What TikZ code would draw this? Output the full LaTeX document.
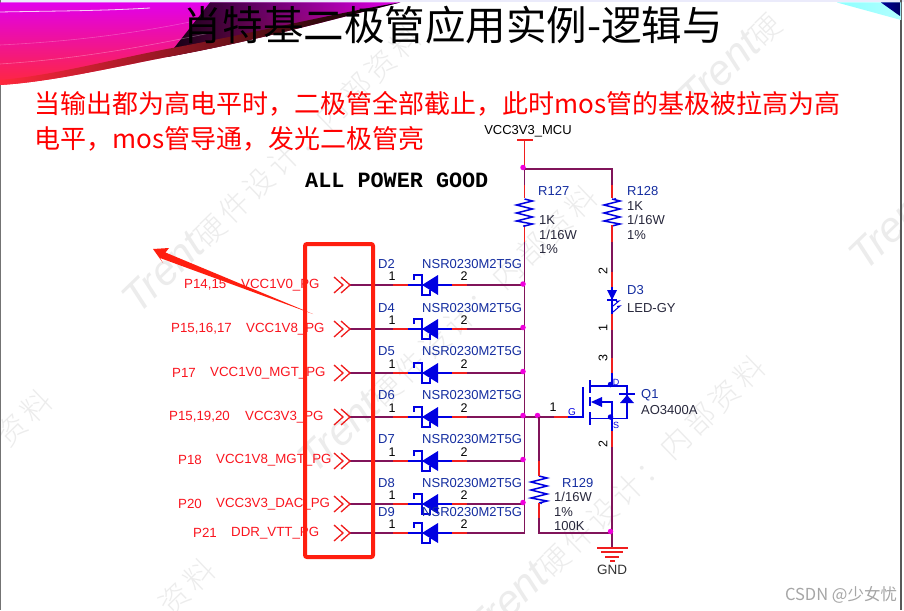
\documentclass[tikz,border=0pt]{standalone}
\usepackage{fontspec}
\usetikzlibrary{fadings}
\setmainfont{Liberation Sans}
\setmonofont{Liberation Mono}
\newfontfamily\cjkfont{Noto Sans CJK SC}
\newfontfamily\markfont[LetterSpace=13]{Noto Sans CJK SC Light}
\definecolor{wirecol}{RGB}{128,20,90}
\definecolor{pincol}{RGB}{240,30,30}
\definecolor{symcol}{RGB}{0,0,225}
\definecolor{dotcol}{RGB}{240,0,220}
\definecolor{refcol}{RGB}{20,45,160}
\definecolor{valcol}{RGB}{40,40,60}
\definecolor{sigcol}{RGB}{250,20,30}
\definecolor{boxcol}{RGB}{255,30,15}
\definecolor{markcol}{RGB}{236,236,236}
\newcommand{\trentmark}{{\rmfamily\itshape\fontsize{42}{42}\selectfont Trent}}
\tikzset{
  wire/.style={draw=wirecol, line width=1.3pt},
  pinwire/.style={draw=pincol, line width=1.3pt},
  symline/.style={draw=symcol, line width=1.3pt},
  dot/.style={circle, fill=dotcol, inner sep=0pt, minimum size=5.5pt},
  bluedot/.style={circle, fill=symcol, inner sep=0pt, minimum size=5.5pt},
  tinydot/.style={circle, fill=symcol, inner sep=0pt, minimum size=2.5pt},
  partref/.style={right, inner sep=0pt, text=refcol, font=\fontsize{13}{13}\selectfont},
  partval/.style={right, inner sep=0pt, text=valcol, font=\fontsize{13}{13}\selectfont},
  pinno/.style={inner sep=0pt, text=black, font=\fontsize{12.5}{12.5}\selectfont},
  mospin/.style={inner sep=0pt, text=symcol, font=\fontsize{9}{9}\selectfont},
  siglabel/.style={right, inner sep=0pt, yshift=-1pt, text=sigcol, font=\fontsize{13.3}{13.3}\selectfont},
  wmark/.style={rotate=44, inner sep=0pt, text=markcol, font=\markfont\fontsize{30}{30}\selectfont},
  redtext/.style={right, inner sep=0pt, text=red, font=\cjkfont\fontsize{26}{26}\selectfont},
  schottky/.pic={
    \draw[pinwire] (-37,0) -- (-22,0);
    \draw[pinwire] (22,0) -- (37,0);
    \draw[symline] (-22,0) -- (22,0);
    \fill[symcol] (-8,0) -- (8,-10) -- (8,10) -- cycle;
    \draw[symline] (-16,-5) -- (-16,-10) -- (-8,-10) -- (-8,10) -- (0,10) -- (0,5);
  },
  chevrons/.pic={
    \draw[pinwire] (-16,-8) -- (-7,0) -- (-16,8);
    \draw[pinwire] (-9,-8) -- (0,0) -- (-9,8);
  },
  zigzag/.pic={
    \draw[symline, line width=1.5pt] (0,0) -- (8,2) -- (-8,6) -- (8,10) -- (-8,14) -- (8,18) -- (-8,22) -- (8,25) -- (0,27);
  },
  groundsym/.pic={
    \draw[pinwire] (-15,0) -- (16,0);
    \draw[pinwire] (-11,4) -- (11,4);
    \draw[pinwire] (-7,9) -- (7,9);
    \draw[pinwire] (-2,13) -- (3,13);
  }
}
\begin{document}
\begin{tikzpicture}[x=1pt,y=-1pt]
\useasboundingbox (0,0) rectangle (904,610);
\fill[white] (0,0) rectangle (904,610);
% watermark
\node[wmark] (markA) at (272,168) {\trentmark 硬件设计：内部资料};
\node[wmark] (markB) at (448,328) {\trentmark 硬件设计：内部资料};
\node[wmark] (markC) at (616,498) {\trentmark 硬件设计：内部资料};
\node[wmark, anchor=west] (markD) at (685,105) {\trentmark 硬};
\node[wmark, anchor=west] (markE) at (855,262) {\trentmark};
\node[wmark] (markF) at (24,418) {资料};
\node[wmark] (markG) at (187,587) {资料};
% slide frame and swoosh
\fill[black!18!blue!8!white] (0,0) rectangle (904,2.5);
\fill[black!55] (0,0) rectangle (1.2,610);
\fill[black!65] (900,0) rectangle (902,610);
\shade[top color={rgb,255:red,225;green,0;blue,235}, middle color={rgb,255:red,255;green,0;blue,140}, bottom color={rgb,255:red,255;green,40;blue,60}] (0,2.5) -- (400,2.5) .. controls (330,20) and (260,40) .. (167,57) .. controls (110,68) and (50,82) .. (0,85) -- cycle;
\fill[black!85!violet, path fading=east] (210,2.5) -- (400,2.5) .. controls (330,20) and (260,40) .. (167,57) -- cycle;
\shade[left color={rgb,255:red,255;green,40;blue,60}, middle color=red!60!black, right color=black] (0,85) .. controls (50,82) and (110,68) .. (167,57) .. controls (260,40) and (330,20) .. (400,2.5) .. controls (330,14) and (260,32) .. (167,49) .. controls (110,60) and (50,76) .. (0,80) -- cycle;
\draw[white, opacity=.8, line width=.8pt] (0,12) .. controls (50,11) and (100,11) .. (150,8);
\draw[white, opacity=.25, line width=.6pt] (0,45) .. controls (60,42) and (120,36) .. (190,22);
\draw[white, opacity=.3, line width=.6pt] (0,64) .. controls (60,60) and (120,52) .. (210,33);
\shade[left color=cyan!45!white, right color=cyan!30!white] (837,2.5) -- (901,2.5) -- (901,20) -- cycle;
\shade[left color=blue!60!black, right color=black!60!blue] (881,2.5) -- (900,2.5) -- (900,16) -- cycle;
% title and text
\node[inner sep=0pt, font=\cjkfont\fontsize{40.5}{40.5}\selectfont] (titleT) at (452.5,25) {肖特基二极管应用实例-逻辑与};
\node[redtext] (noteA) at (34.5,104) {当输出都为高电平时，二极管全部截止，此时mos管的基极被拉高为高};
\node[redtext] (noteB) at (34.5,139) {电平，mos管导通，发光二极管亮};
\node[right, inner sep=0pt, font=\bfseries\ttfamily\fontsize{21.8}{21.8}\selectfont] (allgood) at (305,180) {ALL POWER GOOD};
\node[inner sep=0pt, text=black!35, font=\cjkfont\fontsize{16.5}{16.5}\selectfont] (csdn) at (841,595) {CSDN @少女忧};
% rail and bus
\node[inner sep=0pt, font=\fontsize{13}{13}\selectfont] (vcclabel) at (528,131) {VCC3V3\_MCU};
\coordinate (vccbar) at (524.5,140);
\coordinate (bustop) at (524.5,169);
\coordinate (busend) at (524.5,533);
\coordinate (rightrail) at (612,169);
\coordinate (rnode) at (539,417);
\draw[pinwire] (517,140) -- (533,140);
\draw[pinwire] (vccbar) -- (bustop);
\draw[wire] (bustop) -- (rightrail) -- (612,185);
\draw[wire] (bustop) -- (524.5,185);
\draw[pinwire] (524.5,185) -- (524.5,198);
\draw[pinwire] (612,185) -- (612,198);
\draw[wire] (524.5,225) -- (busend);
\draw[pinwire] (524.5,225) -- (524.5,242);
\node[dot] (topdot) at (523,167.5) {};
% diode rows
\coordinate (inD2) at (350,285);
\coordinate (inD4) at (350,329);
\coordinate (inD5) at (350,373);
\coordinate (inD6) at (350,417);
\coordinate (inD7) at (350,461);
\coordinate (inD8) at (350,504);
\coordinate (inD9) at (350,533);
\draw[wire] (inD2) -- (inD2 -| bustop);
\draw[wire] (inD4) -- (inD4 -| bustop);
\draw[wire] (inD5) -- (inD5 -| bustop);
\draw[wire] (inD6) -- (rnode) -- (554,417);
\draw[wire] (inD7) -- (inD7 -| bustop);
\draw[wire] (inD8) -- (inD8 -| bustop);
\draw[wire] (inD9) -- (busend);
\pic (chevD2) at (inD2) {chevrons};
\pic (chevD4) at (inD4) {chevrons};
\pic (chevD5) at (inD5) {chevrons};
\pic (chevD6) at (inD6) {chevrons};
\pic (chevD7) at (inD7) {chevrons};
\pic (chevD8) at (inD8) {chevrons};
\pic (chevD9) at (inD9) {chevrons};
\pic (diodeD2) at (430,285) {schottky};
\pic (diodeD4) at (430,329) {schottky};
\pic (diodeD5) at (430,373) {schottky};
\pic (diodeD6) at (430,417) {schottky};
\pic (diodeD7) at (430,461) {schottky};
\pic (diodeD8) at (430,504) {schottky};
\pic (diodeD9) at (430,533) {schottky};
\node[dot] (dotD2) at (523,284) {};
\node[dot] (dotD4) at (523,327.5) {};
\node[dot] (dotD5) at (523,371.5) {};
\node[dot] (dotD6) at (523,415.5) {};
\node[dot] (dotD7) at (523,459.5) {};
\node[dot] (dotD8) at (523,502.5) {};
\node[dot] (dotR) at (537.5,415.5) {};
\node[partref] (refD2) at (378,264) {D2};
\node[partref] (refD4) at (378,308) {D4};
\node[partref] (refD5) at (378,351) {D5};
\node[partref] (refD6) at (378,395) {D6};
\node[partref] (refD7) at (378,439) {D7};
\node[partref] (refD8) at (378,483) {D8};
\node[partref] (refD9) at (378,512) {D9};
\node[partref] (nsrD2) at (422,264) {NSR0230M2T5G};
\node[partref] (nsrD4) at (422,308) {NSR0230M2T5G};
\node[partref] (nsrD5) at (422,351) {NSR0230M2T5G};
\node[partref] (nsrD6) at (422,395) {NSR0230M2T5G};
\node[partref] (nsrD7) at (422,439) {NSR0230M2T5G};
\node[partref] (nsrD8) at (422,483) {NSR0230M2T5G};
\node[partref] (nsrD9) at (422,512) {NSR0230M2T5G};
\node[pinno] (aD2) at (392,276) {1};
\node[pinno] (aD4) at (392,320) {1};
\node[pinno] (aD5) at (392,364) {1};
\node[pinno] (aD6) at (392,408) {1};
\node[pinno] (aD7) at (392,452) {1};
\node[pinno] (aD8) at (392,495) {1};
\node[pinno] (aD9) at (392,524) {1};
\node[pinno] (kD2) at (464,276) {2};
\node[pinno] (kD4) at (464,320) {2};
\node[pinno] (kD5) at (464,364) {2};
\node[pinno] (kD6) at (464,408) {2};
\node[pinno] (kD7) at (464,452) {2};
\node[pinno] (kD8) at (464,495) {2};
\node[pinno] (kD9) at (464,524) {2};
% signal labels
\node[siglabel] (pageD2) at (184,284) {P14,15};
\node[siglabel] (pageD4) at (171,328) {P15,16,17};
\node[siglabel] (pageD5) at (172,372) {P17};
\node[siglabel] (pageD6) at (169,416) {P15,19,20};
\node[siglabel] (pageD7) at (178,459) {P18};
\node[siglabel] (pageD8) at (178,503) {P20};
\node[siglabel] (pageD9) at (193,532) {P21};
\node[siglabel] (sigD2) at (241,284) {VCC1V0\_PG};
\node[siglabel] (sigD4) at (246,328) {VCC1V8\_PG};
\node[siglabel] (sigD5) at (210,372) {VCC1V0\_MGT\_PG};
\node[siglabel] (sigD6) at (245,416) {VCC3V3\_PG};
\node[siglabel] (sigD7) at (216,459) {VCC1V8\_MGT\_PG};
\node[siglabel] (sigD8) at (216,503) {VCC3V3\_DAC\_PG};
\node[siglabel] (sigD9) at (231,532) {DDR\_VTT\_PG};
% resistors
\pic (zigA) at (524.5,199) {zigzag};
\pic (zigB) at (612,199) {zigzag};
\pic (zigC) at (539,476) {zigzag};
\node[tinydot] (pinA) at (524,226) {};
\node[tinydot] (pinB) at (615,199) {};
\node[tinydot] (pinC) at (541,503) {};
\node[partref] (refR127) at (538,191) {R127};
\node[partval] (valA1) at (539,220) {1K};
\node[partval] (valA2) at (539,235) {1/16W};
\node[partval] (valA3) at (539,249) {1\%};
\node[partref] (refR128) at (627,191) {R128};
\node[partval] (valB1) at (627,206) {1K};
\node[partval] (valB2) at (627,220) {1/16W};
\node[partval] (valB3) at (627,235) {1\%};
\node[partref] (refR129) at (562,483) {R129};
\node[partval] (valC1) at (554,497) {1/16W};
\node[partval] (valC2) at (554,512) {1\%};
\node[partval] (valC3) at (554,526) {100K};
\coordinate (rbottom) at (539,533);
\coordinate (gndjoin) at (612,533);
\coordinate (gndtop) at (612,548);
\draw[wire] (rnode) -- (539,461);
\draw[pinwire] (539,461) -- (539,476);
\draw[pinwire] (539,503) -- (539,518);
\draw[wire] (539,518) -- (rbottom) -- (gndjoin);
\draw[wire] (612,447) -- (gndtop);
\node[dot] (dotgnd) at (610.5,531.5) {};
\pic (gndsym) at (gndtop) {groundsym};
\node[inner sep=0pt, text=black!80, font=\fontsize{13.5}{13.5}\selectfont] (gndlabel) at (612,570) {GND};
% LED
\draw[pinwire] (612,225) -- (612,242);
\draw[wire] (612,242) -- (612,272);
\draw[pinwire] (612,272) -- (612,287);
\draw[symline] (612,287) -- (612,314);
\fill[symcol] (607,290) -- (617,290) -- (612,300) -- cycle;
\draw[symline] (607,300) -- (617,300);
\draw[symline, line width=1pt] (613,306) -- (619,301) -- (616,301.5);
\draw[symline, line width=1pt] (613,312) -- (620,306) -- (617,306.5);
\draw[pinwire] (612,314) -- (612,330);
\draw[wire] (612,330) -- (612,358);
\node[pinno, rotate=90] (ledK) at (603,271) {2};
\node[pinno, rotate=90] (ledA) at (603,328) {1};
\node[partref] (refD3) at (627,290) {D3};
\node[partval] (valD3) at (627,308) {LED-GY};
% MOSFET
\draw[pinwire] (612,358) -- (612,373);
\draw[symline] (612,373) -- (612,386);
\draw[symline] (590,386) -- (627,386) -- (627,418.5) -- (590,418.5);
\draw[symline] (590,380) -- (590,393);
\draw[symline] (590,397) -- (590,406);
\draw[symline] (590,412) -- (590,425);
\draw[symline] (583,387) -- (583,417) -- (568,417);
\draw[pinwire] (554,417) -- (568,417);
\fill[symcol] (591,402) -- (602,397) -- (602,407) -- cycle;
\draw[symline] (600,402) -- (612,402) -- (612,431);
\draw[symline] (619,394) -- (635,394);
\fill[symcol] (627,395) -- (634,403) -- (620,403) -- cycle;
\draw[pinwire] (612,431) -- (612,447);
\node[bluedot] (dotdrain) at (610.5,384.5) {};
\node[bluedot] (dotsource) at (610.5,417) {};
\node[mospin] (pinS) at (616,425) {S};
\node[mospin] (pinD) at (616,382) {D};
\node[mospin, font=\fontsize{10}{10}\selectfont] (pinG) at (572,412) {G};
\node[pinno] (gatepin) at (553,407) {1};
\node[pinno, rotate=90] (drainpin) at (603,358) {3};
\node[pinno, rotate=90] (sourcepin) at (603,444) {2};
\node[partref] (refQ1) at (641,395) {Q1};
\node[partval] (valQ1) at (641,410) {AO3400A};
% red marks
\draw[boxcol, line width=4pt, rounded corners=2pt] (305,244) rectangle (373,557);
\fill[boxcol] (153,249) -- (169,248) -- (165.5,252.5) -- (313,314) -- (160,258) -- (163,263) -- cycle;
\end{tikzpicture}
\end{document}
